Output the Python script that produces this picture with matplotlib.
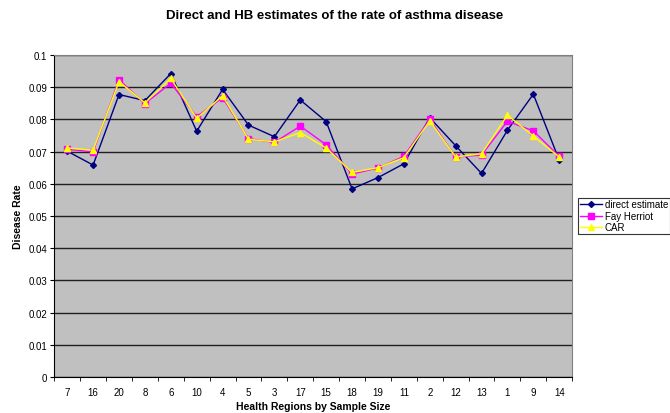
import matplotlib.pyplot as plt
import numpy as np

plt.rcParams['font.family'] = ['Liberation Sans', 'DejaVu Sans']

regions = ["7", "16", "20", "8", "6", "10", "4", "5", "3", "17",
           "15", "18", "19", "11", "2", "12", "13", "1", "9", "14"]
direct = [0.0701, 0.0658, 0.0877, 0.0858, 0.0942, 0.0763, 0.0893, 0.0782, 0.0746, 0.0860,
          0.0793, 0.0584, 0.0619, 0.0662, 0.0805, 0.0718, 0.0632, 0.0766, 0.0878, 0.0673]
fay_herriot = [0.0707, 0.0699, 0.0923, 0.0849, 0.0912, 0.0808, 0.0867, 0.0740, 0.0728, 0.0779,
               0.0721, 0.0630, 0.0649, 0.0685, 0.0800, 0.0683, 0.0689, 0.0794, 0.0764, 0.0685]
car = [0.0711, 0.0704, 0.0917, 0.0851, 0.0927, 0.0803, 0.0873, 0.0738, 0.0730, 0.0759,
       0.0711, 0.0635, 0.0650, 0.0681, 0.0795, 0.0683, 0.0693, 0.0813, 0.0748, 0.0683]

fig = plt.figure(figsize=(6.7, 4.14), dpi=100)
ax = fig.add_axes([0.081, 0.087, 0.773, 0.778])
ax.set_facecolor("#C0C0C0")

x = np.arange(len(regions))
ax.plot(x, direct, color="#000080", marker="D", markersize=3, linewidth=1, label="direct estimate")
ax.plot(x, fay_herriot, color="#FF00FF", marker="s", markersize=4.5, linewidth=1, label="Fay Herriot")
ax.plot(x, car, color="#FFFF00", marker="^", markersize=5, linewidth=1, label="CAR")

ax.set_xlim(-0.5, len(regions) - 0.5)
ax.set_ylim(0, 0.1)
ax.set_yticks(np.arange(0, 0.101, 0.01))
ax.set_yticklabels(["0"] + ["%g" % v for v in np.arange(0.01, 0.101, 0.01).round(2)], fontsize=7)
ax.yaxis.grid(True, color="#202020", linewidth=1)
ax.set_axisbelow(True)

ax.set_xticks(x)
ax.set_xticklabels(regions, fontsize=7)
ax.tick_params(axis="x", length=0, pad=7)
ax.set_xticks(np.arange(-0.5, len(regions), 1), minor=True)
ax.tick_params(axis="x", which="minor", length=3, direction="out")
ax.tick_params(axis="y", length=3, pad=2)

for side in ["top", "right"]:
    ax.spines[side].set_color("#808080")
for side in ["left", "bottom"]:
    ax.spines[side].set_color("black")

ax.set_xlabel("Health Regions by Sample Size", fontsize=7.5, fontweight="bold", labelpad=3)
ax.set_ylabel("Disease Rate", fontsize=7.5, fontweight="bold", labelpad=4)
fig.suptitle("Direct and HB estimates of the rate of asthma disease", fontsize=9.5,
             fontweight="bold", y=0.975)

leg = ax.legend(loc="center left", bbox_to_anchor=(1.012, 0.5), fontsize=7, frameon=True,
                fancybox=False, edgecolor="black", borderpad=0.2, handlelength=2.2,
                handletextpad=0.3, labelspacing=0.15, borderaxespad=0)
leg.get_frame().set_linewidth(0.8)

fig.savefig("out.png")
